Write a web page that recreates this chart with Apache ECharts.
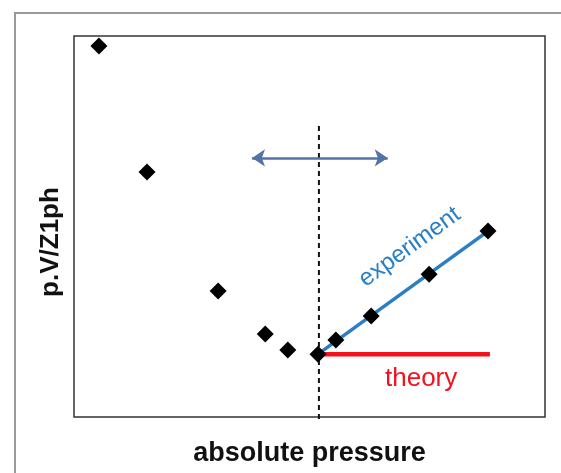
<!DOCTYPE html>
<html>
<head>
<meta charset="utf-8">
<script src="https://cdn.jsdelivr.net/npm/echarts@6/dist/echarts.min.js"></script>
<style>html,body{margin:0;padding:0;background:#fff;}#c{width:561px;height:473px;}</style>
</head>
<body>
<div id="c"></div>
<script>
// measured points (arbitrary units, 0..100 on both axes)
var pressure = [5.3, 15.5, 30.6, 40.6, 45.4, 51.8, 55.6, 63.1, 75.4, 87.9];
var pvz      = [97.4, 64.3, 33.1, 21.8, 17.6, 16.5, 20.2, 26.5, 37.5, 48.8];
// experiment fit line end points
var expX = [51.8, 87.9];
var expY = [16.5, 48.8];
// theory line
var theoryX = [51.8, 88.3];
var theoryY = [16.5, 16.5];
// dashed vertical marker
var dashX = [52.0, 52.0];
var dashY = [-0.5, 76.5];
// double arrow
var arrowX = [37.8, 66.6];
var arrowY = [68.0, 68.0];
// labels
var xTitle = 'absolute pressure';
var yTitle = 'p.V/Z1ph';
var expLabel = 'experiment';
var theoryLabel = 'theory';
var expLabelPos = [71.3, 44.6];
var theoryLabelPos = [73.7, 10.0];

function pairs(xs, ys){ return xs.map(function(x,i){return [x, ys[i]];}); }

var chart = echarts.init(document.getElementById('c'));
var option = {
  animation: false,
  backgroundColor: '#fff',
  grid: {left: 74, top: 36, right: 16, bottom: 56, show: true, borderColor: '#333', borderWidth: 1.5},
  xAxis: {type: 'value', min: 0, max: 100, axisLine: {show: false}, axisTick: {show: false}, axisLabel: {show: false}, splitLine: {show: false},
    name: xTitle, nameLocation: 'middle', nameGap: 23,
    nameTextStyle: {fontFamily: 'Liberation Sans, Arial, sans-serif', fontWeight: 'bold', fontSize: 27, color: '#111'}},
  yAxis: {type: 'value', min: 0, max: 100, axisLine: {show: false}, axisTick: {show: false}, axisLabel: {show: false}, splitLine: {show: false}},
  series: [
    {type: 'line', data: pairs(dashX, dashY), symbol: 'none', clip: false, z: 2,
      lineStyle: {color: '#111', width: 2, type: [5, 4]}},
    {type: 'line', data: pairs(theoryX, theoryY), symbol: 'none', z: 3,
      lineStyle: {color: '#f5101e', width: 4.5}},
    {type: 'line', data: pairs(expX, expY), symbol: 'none', z: 3,
      lineStyle: {color: '#2a7fc4', width: 3.5}},
    {type: 'line', data: [], symbol: 'none', z: 3,
      markLine: {silent: true, symbol: ['arrow', 'arrow'], symbolSize: [13, 13], label: {show: false},
        lineStyle: {color: '#5273a8', width: 2.5, type: 'solid'},
        data: [[{coord: [arrowX[0], arrowY[0]]}, {coord: [arrowX[1], arrowY[1]]}]]}},
    {type: 'scatter', data: pairs(pressure, pvz), symbol: 'diamond', symbolSize: 17, z: 5,
      itemStyle: {color: '#000', opacity: 1}}
  ]
};
chart.setOption(option);

var e0 = chart.convertToPixel({gridIndex: 0}, [expX[0], expY[0]]);
var e1 = chart.convertToPixel({gridIndex: 0}, [expX[1], expY[1]]);
var ang = Math.atan2(e0[1] - e1[1], e1[0] - e0[0]);
var ep = chart.convertToPixel({gridIndex: 0}, expLabelPos);
var tp = chart.convertToPixel({gridIndex: 0}, theoryLabelPos);

chart.setOption({
  graphic: [
    {type: 'rect', shape: {x: 15, y: 13, width: 560, height: 480}, style: {fill: 'none', stroke: '#9a9a9a', lineWidth: 2}, z: 0, silent: true},
    {type: 'text', x: 51, y: 242, rotation: Math.PI / 2, style: {text: yTitle, fontFamily: 'Liberation Sans, Arial, sans-serif', fontWeight: 'bold', fontSize: 26, fill: '#111', align: 'center', verticalAlign: 'middle'}},
    {type: 'text', x: ep[0], y: ep[1], rotation: ang, style: {text: expLabel, fontFamily: 'Liberation Sans, Arial, sans-serif', fontSize: 24, fill: '#2a7fc4', align: 'center', verticalAlign: 'middle'}},
    {type: 'text', x: tp[0], y: tp[1], style: {text: theoryLabel, fontFamily: 'Liberation Sans, Arial, sans-serif', fontSize: 26, fill: '#f5101e', align: 'center', verticalAlign: 'middle'}}
  ]
});
</script>
</body>
</html>
